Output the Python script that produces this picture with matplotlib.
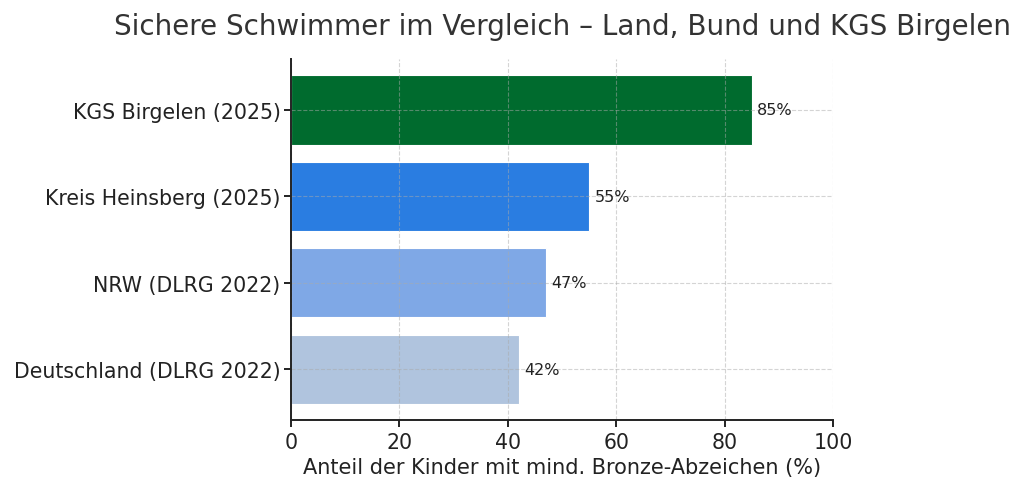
import matplotlib.pyplot as plt

categories = ["Deutschland (DLRG 2022)", "NRW (DLRG 2022)", "Kreis Heinsberg (2025)", "KGS Birgelen (2025)"]
values = [42, 47, 55, 85]
colors = ["#b0c4de", "#7fa8e6", "#2a7de1", "#006b2e"]

fig = plt.figure(figsize=(10.24, 4.89), dpi=100)
ax = fig.add_axes([291/1024, 1 - 421/489, (833-291)/1024, 361/489])

bars = ax.barh(categories, values, color=colors, height=0.8, edgecolor="white", linewidth=0.8, zorder=2)
for b, v in zip(bars, values):
    ax.text(b.get_width() + 1, b.get_y() + b.get_height()/2, f"{v}%", va="center", ha="left",
            fontsize=11.5, color="#222222", zorder=3)

ax.set_xlim(0, 100)
ax.set_axisbelow(False)
ax.grid(True, linestyle="--", color="#aaaaaa", linewidth=0.8, alpha=0.5)
for s in ["top", "right"]:
    ax.spines[s].set_visible(False)
for s in ["left", "bottom"]:
    ax.spines[s].set_color("#222222")
    ax.spines[s].set_linewidth(1.4)
    ax.spines[s].set_zorder(4)
ax.tick_params(axis="both", labelsize=14.8, colors="#222222", length=5, width=1.4)
ax.tick_params(axis="y", pad=2.5)
ax.set_xlabel("Anteil der Kinder mit mind. Bronze-Abzeichen (%)", fontsize=15, color="#222222", labelpad=4)
ax.set_title("Sichere Schwimmer im Vergleich – Land, Bund und KGS Birgelen", fontsize=20,
             color="#333333", pad=18)

fig.savefig("out.png", dpi=100)
